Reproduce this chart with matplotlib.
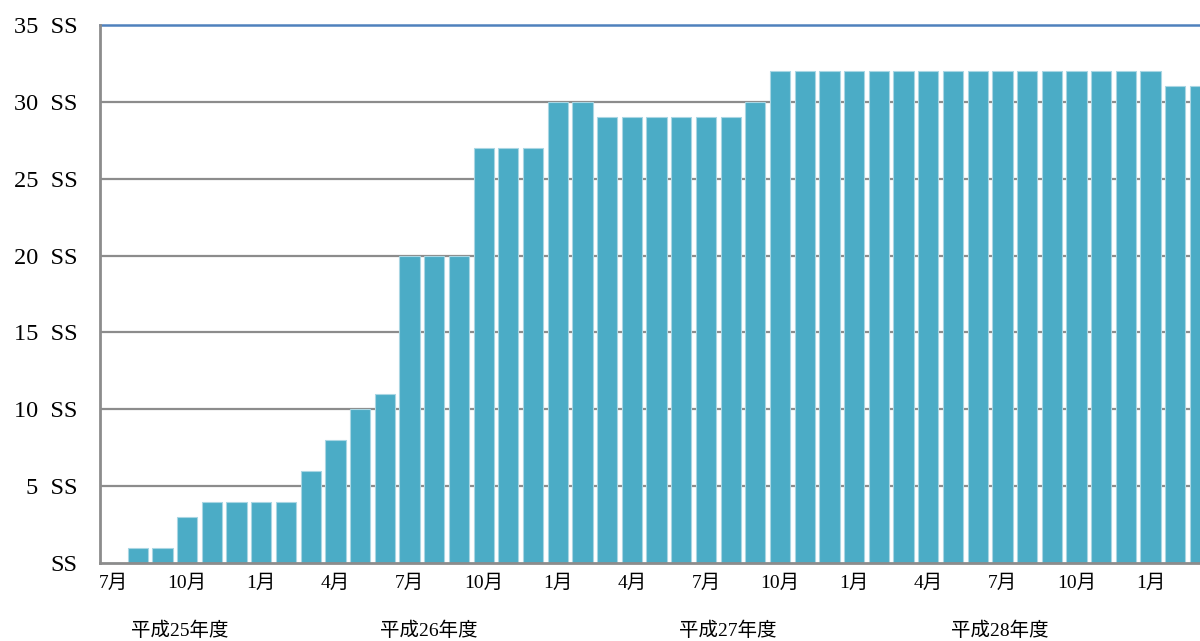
import numpy as np
import matplotlib.pyplot as plt

plt.rcParams['font.family'] = ['Liberation Serif', 'Noto Sans CJK JP']

# monthly counts, July H25 through March H29
months = ['7月', '8月', '9月', '10月', '11月', '12月', '1月', '2月', '3月',
          '4月', '5月', '6月', '7月', '8月', '9月', '10月', '11月', '12月', '1月', '2月', '3月',
          '4月', '5月', '6月', '7月', '8月', '9月', '10月', '11月', '12月', '1月', '2月', '3月',
          '4月', '5月', '6月', '7月', '8月', '9月', '10月', '11月', '12月', '1月', '2月', '3月']
counts = [0, 1, 1, 3, 4, 4, 4, 4, 6,
          8, 10, 11, 20, 20, 20, 27, 27, 27, 30, 30, 29,
          29, 29, 29, 29, 29, 30, 32, 32, 32, 32, 32, 32,
          32, 32, 32, 32, 32, 32, 32, 32, 32, 32, 31, 31]
years = ['平成25年度', '平成26年度', '平成27年度', '平成28年度']
year_pos = [2.7, 12.8, 24.9, 35.9]
yticks = [0, 5, 10, 15, 20, 25, 30, 35]

x = np.arange(len(counts))

fig = plt.figure(figsize=(12, 6.41), dpi=100)
ax = fig.add_axes([100 / 1200, 1 - 563 / 641, 1100 / 1200, 538 / 641])

ax.bar(x, counts, width=0.82, color='#4BACC6', edgecolor='#A9D6E3', linewidth=0.8, zorder=3)

ax.set_xlim(-0.53, 44.0)
ax.set_ylim(0, 35)

for v in yticks[1:-1]:
    ax.axhline(v, color='#8C8C8C', linewidth=1.6, zorder=1)
ax.axhline(35, color='#4F81BD', linewidth=1.8, zorder=1, clip_on=False)

for s in ['top', 'right']:
    ax.spines[s].set_visible(False)
for s in ['left', 'bottom']:
    ax.spines[s].set_color('#8C8C8C')
    ax.spines[s].set_linewidth(2)
ax.spines['bottom'].set_zorder(4)

ax.set_yticks(yticks)
ax.set_yticklabels([f'{v}  SS' if v else 'SS' for v in yticks], fontsize=17.5)
ax.tick_params(axis='y', length=0, pad=16)

shown = [i for i in x if months[i] in ('7月', '10月', '1月', '4月')]
ax.set_xticks(shown)
ax.set_xticklabels([months[i] for i in shown], fontsize=14)
ax.tick_params(axis='x', length=0, pad=8)

for label, pos in zip(years, year_pos):
    ax.text(pos, -4.4, label, ha='center', va='center', fontsize=14)

fig.savefig('out.png', dpi=100)
